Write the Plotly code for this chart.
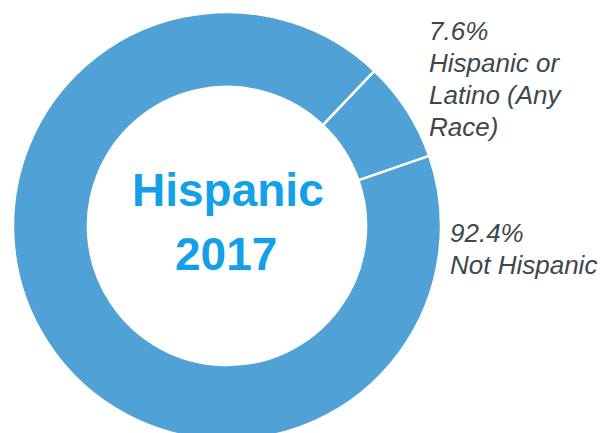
import plotly.graph_objects as go

labels = ["Hispanic or Latino (Any Race)", "Not Hispanic"]
values = [7.6, 92.4]
label_lines = [["7.6%", "Hispanic or", "Latino (Any", "Race)"], ["92.4%", "Not Hispanic"]]
center_lines = ["Hispanic", "2017"]

W, H = 603, 440
SLICE = "#4FA1D6"
TXT = "#3E474C"
CTR = "#14A0E8"

fig = go.Figure(go.Pie(
    labels=labels, values=values, sort=False, direction="clockwise",
    rotation=43.5, hole=0.65, textinfo="none", hoverinfo="label+percent",
    marker=dict(colors=[SLICE, SLICE], line=dict(color="white", width=2.5)),
    domain=dict(x=[13 / W, 441 / W], y=[0, 428 / H]),
    showlegend=False,
))

def px_ann(text, x, y, size, color, bold=False, italic=False, xanchor="left"):
    fig.add_annotation(
        text=(f"<b>{text}</b>" if bold else text), x=x / W, y=1 - y / H,
        xref="paper", yref="paper", xanchor=xanchor, yanchor="middle", showarrow=False,
        font=dict(family="Liberation Sans, Arial, sans-serif", size=size, color=color,
                  style=("italic" if italic else "normal")),
    )

# outside labels (left aligned)
ys1 = [31, 63, 95, 127]
for t, y in zip(label_lines[0], ys1):
    px_ann(t, 427, y, 26, TXT, italic=True)
ys2 = [233, 265]
for t, y in zip(label_lines[1], ys2):
    px_ann(t, 448, y, 26, TXT, italic=True)

# center title
px_ann(center_lines[0], 228, 190, 46, CTR, bold=True, xanchor="center")
px_ann(center_lines[1], 226, 254, 46, CTR, bold=True, xanchor="center")

fig.update_layout(width=W, height=H, margin=dict(l=0, r=0, t=0, b=0),
                  paper_bgcolor="white", plot_bgcolor="white")

fig.write_html("out.html", post_script="document.body.style.overflow='hidden';document.body.style.margin='0';")
